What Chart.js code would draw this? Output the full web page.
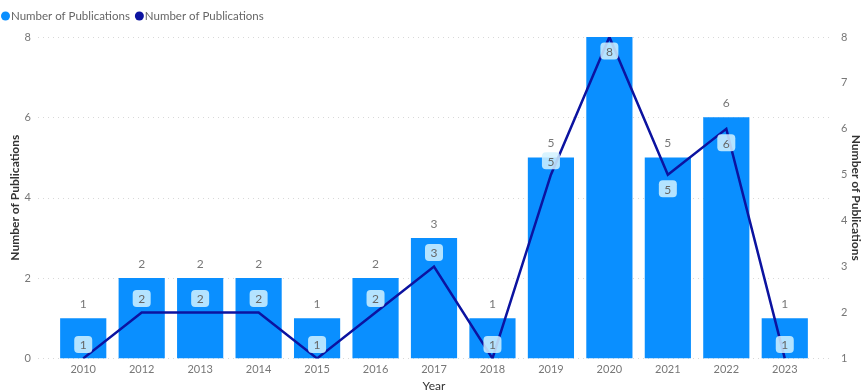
<!DOCTYPE html>
<html>
<head>
<meta charset="utf-8">
<script src="https://cdn.jsdelivr.net/npm/chart.js@4.4.1/dist/chart.umd.min.js"></script>
<style>
  html, body { margin: 0; padding: 0; background: #fff; }
</style>
</head>
<body>
<canvas id="pubChart" width="863" height="392"></canvas>
<script>
const years = ['2010', '2012', '2013', '2014', '2015', '2016', '2017', '2018', '2019', '2020', '2021', '2022', '2023'];
const barCounts = [1, 2, 2, 2, 1, 2, 3, 1, 5, 8, 5, 6, 1];
const lineCounts = [1, 2, 2, 2, 1, 2, 3, 1, 5, 8, 5, 6, 1];
const leftTicks = [0, 2, 4, 6, 8];
const rightTicks = [1, 2, 3, 4, 5, 6, 7, 8];

// which side of the line point the boxed label sits (style only)
const lineLabelSide = [-1, -1, -1, -1, -1, -1, -1, -1, -1, 1, 1, 1, -1];

const FONT = "Lato, 'Open Sans', sans-serif";

const valueLabels = {
    id: 'valueLabels',
    afterDatasetsDraw(chart) {
        const ctx = chart.ctx;
        const top = chart.chartArea.top;
        ctx.save();
        ctx.font = '12px ' + FONT;
        ctx.textAlign = 'center';
        ctx.textBaseline = 'middle';

        // bar labels above bars (hidden when they would run out of the plot)
        chart.getDatasetMeta(0).data.forEach((bar, i) => {
            const y = bar.y - 14;
            if (y < top) return;
            ctx.fillStyle = '#777';
            ctx.fillText(String(barCounts[i]), bar.x, y);
        });

        // boxed labels for line points
        chart.getDatasetMeta(1).data.forEach((pt, i) => {
            const y = pt.y + lineLabelSide[i] * 14;
            const w = 18, h = 17;
            ctx.fillStyle = 'rgba(210, 242, 255, 0.85)';
            ctx.beginPath();
            ctx.roundRect(pt.x - w / 2, y - h / 2, w, h, 4);
            ctx.fill();
            ctx.fillStyle = '#666';
            ctx.fillText(String(lineCounts[i]), pt.x, y + 1);
        });
        ctx.restore();
    }
};

const dottedGrid = {
    id: 'dottedGrid',
    beforeDatasetsDraw(chart) {
        const ctx = chart.ctx;
        const area = chart.chartArea;
        const y = chart.scales.y;
        ctx.save();
        ctx.strokeStyle = '#d8d8d8';
        ctx.lineWidth = 1;
        ctx.setLineDash([1, 4]);
        leftTicks.forEach(v => {
            const py = Math.round(y.getPixelForValue(v)) + 0.5;
            ctx.beginPath();
            ctx.moveTo(area.left - 16, py);
            ctx.lineTo(area.right + 16, py);
            ctx.stroke();
        });
        ctx.restore();
    }
};

// simple top-left legend
const topLegend = {
    id: 'topLegend',
    afterDraw(chart) {
        const ctx = chart.ctx;
        ctx.save();
        ctx.font = '11.5px ' + FONT;
        ctx.textBaseline = 'middle';
        let x = 1;
        const y = 16;
        chart.data.datasets.forEach(ds => {
            ctx.fillStyle = ds.backgroundColor;
            ctx.beginPath();
            ctx.arc(x + 4.5, y, 4.5, 0, Math.PI * 2);
            ctx.fill();
            ctx.fillStyle = '#666';
            ctx.fillText(ds.label, x + 10, y);
            x += 10 + ctx.measureText(ds.label).width + 5;
        });
        ctx.restore();
    }
};

new Chart(document.getElementById('pubChart').getContext('2d'), {
    type: 'bar',
    data: {
        labels: years,
        datasets: [{
            label: 'Number of Publications',
            data: barCounts,
            backgroundColor: '#0A8FFF',
            borderWidth: 0,
            categoryPercentage: 1,
            barPercentage: 0.79,
            yAxisID: 'y',
            order: 2
        }, {
            type: 'line',
            label: 'Number of Publications',
            data: lineCounts,
            borderColor: '#0C13A0',
            backgroundColor: '#0C13A0',
            borderWidth: 2.5,
            pointRadius: 0,
            tension: 0,
            yAxisID: 'y1',
            order: 1
        }]
    },
    options: {
        responsive: false,
        animation: false,
        layout: { padding: { top: 37, right: 0, left: 0, bottom: 0 } },
        plugins: {
            legend: { display: false },
            tooltip: { enabled: false }
        },
        scales: {
            x: {
                grid: { display: false, drawTicks: false },
                border: { display: false },
                ticks: { color: '#777', font: { size: 11, family: FONT }, padding: 4, maxRotation: 0 },
                title: { display: true, text: 'Year', color: '#333', font: { size: 12, family: FONT }, padding: { top: 0, bottom: -3 } },
                afterFit(scale) { scale.height = 32; }
            },
            y: {
                position: 'left',
                min: 0,
                max: 8,
                afterBuildTicks(scale) { scale.ticks = leftTicks.map(v => ({ value: v })); },
                grid: { display: false, drawTicks: false },
                border: { display: false },
                ticks: { color: '#777', font: { size: 11, family: FONT }, padding: 23 },
                title: { display: true, text: 'Number of Publications', color: '#333', font: { size: 12, family: FONT, weight: 'bold' }, padding: { top: 8, bottom: 0 } },
                afterFit(scale) { scale.width = 54; }
            },
            y1: {
                position: 'right',
                min: 1,
                max: 8,
                afterBuildTicks(scale) { scale.ticks = rightTicks.map(v => ({ value: v })); },
                grid: { display: false, drawTicks: false },
                border: { display: false },
                ticks: { color: '#777', font: { size: 11, family: FONT }, padding: 27 },
                title: { display: true, text: 'Number of Publications', color: '#333', font: { size: 12, family: FONT, weight: 'bold' }, padding: 0 },
                afterFit(scale) { scale.width = 49; }
            }
        }
    },
    plugins: [dottedGrid, valueLabels, topLegend]
});
</script>
</body>
</html>
